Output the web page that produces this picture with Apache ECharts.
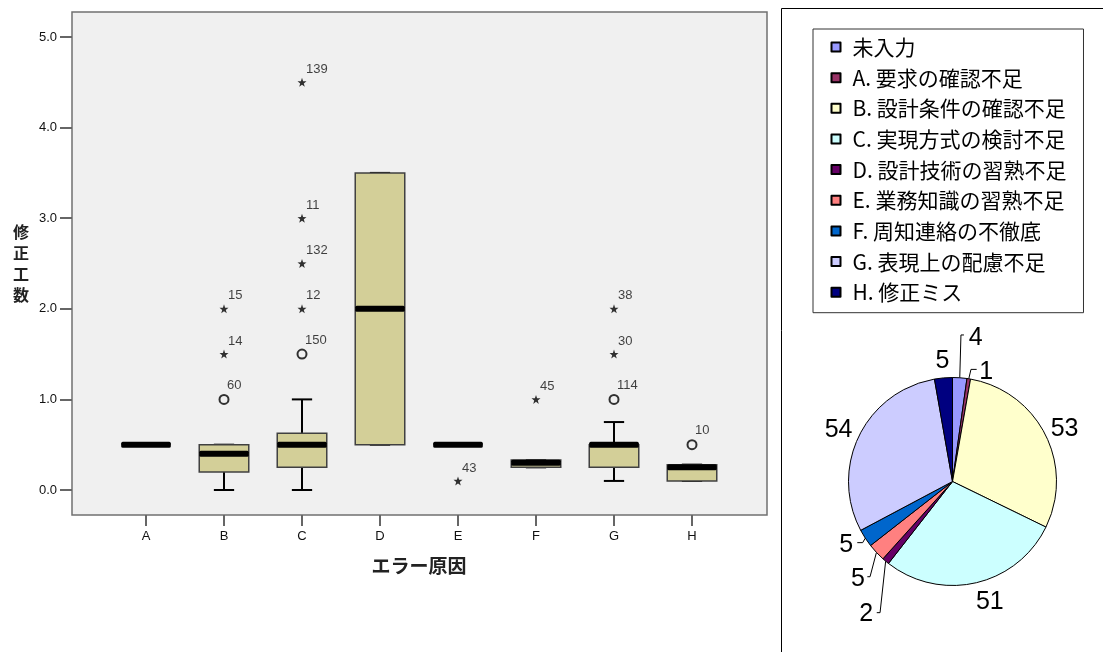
<!DOCTYPE html>
<html>
<head>
<meta charset="utf-8">
<script src="https://cdn.jsdelivr.net/npm/echarts@6.0.0/dist/echarts.min.js"></script>
<style>
html,body{margin:0;padding:0;background:#fff;}
#chart{width:1103px;height:652px;}
</style>
</head>
<body>
<div id="chart"></div>
<script>
// ---------- Box plot data ----------
const categories = ['A', 'B', 'C', 'D', 'E', 'F', 'G', 'H'];
const boxLow    = [0.5, 0.0, 0.0,   0.5, 0.5, 0.25, 0.1, 0.1];
const boxQ1     = [0.5, 0.2, 0.25,  0.5, 0.5, 0.25, 0.25, 0.1];
const boxMedian = [0.5, 0.4, 0.5,   2.0, 0.5, 0.3,  0.5, 0.25];
const boxQ3     = [0.5, 0.5, 0.625, 3.5, 0.5, 0.33, 0.5, 0.28];
const boxHigh   = [0.5, 0.5, 1.0,   3.5, 0.5, 0.33, 0.75, 0.28];

// outliers (circles)
const mildCat = ['B', 'C', 'G', 'H'];
const mildVal = [1.0, 1.5, 1.0, 0.5];
const mildId  = ['60', '150', '114', '10'];
// extremes (stars)
const extCat = ['B', 'B', 'C', 'C', 'C', 'C', 'E', 'F', 'G', 'G'];
const extVal = [1.5, 2.0, 2.0, 2.5, 3.0, 4.5, 0.1, 1.0, 1.5, 2.0];
const extId  = ['14', '15', '12', '132', '11', '139', '43', '45', '30', '38'];

const yTicks = [0, 1, 2, 3, 4, 5];

// ---------- Pie data ----------
const pieNames = ['未入力', 'A. 要求の確認不足', 'B. 設計条件の確認不足', 'C. 実現方式の検討不足',
  'D. 設計技術の習熟不足', 'E. 業務知識の習熟不足', 'F. 周知連絡の不徹底', 'G. 表現上の配慮不足', 'H. 修正ミス'];
const pieValues = [4, 1, 53, 51, 2, 5, 5, 54, 5];
const pieColors = ['#9999FF', '#993366', '#FFFFCC', '#CCFFFF', '#660066', '#FF8080', '#0066CC', '#CCCCFF', '#000080'];

// label placement style (offsets relative to the slice edge point computed by ECharts)
const pieLabelPlace = [
  { line: [[1.2, -42.8], [4.2, -42.8]], text: [9, -40], align: 'left' },
  { line: [[2.2, -9.4], [7.9, -9.4]], text: [10.5, -6.7], align: 'left' },
  { line: null, text: [5.5, -5.3], align: 'left' },
  { line: null, text: [0, 19.7], align: 'left' },
  { line: [[-5.6, 51.5], [-8.9, 51.5]], text: [-12.5, 52.8], align: 'right' },
  { line: [[-6.4, 24.3], [-9.1, 24.3]], text: [-11.5, 26.6], align: 'right' },
  { line: [[-2.6, 4.5], [-8, 4.5]], text: [-12, 6.8], align: 'right' },
  { line: null, text: [-6.5, -6], align: 'right' },
  { line: null, text: [-0.9, -17.1], align: 'center' }
];

const boxData = categories.map((c, i) => [i, boxLow[i], boxQ1[i], boxMedian[i], boxQ3[i], boxHigh[i]]);
const mildData = mildCat.map((c, i) => [categories.indexOf(c), mildVal[i], mildId[i]]);
const extData = extCat.map((c, i) => [categories.indexOf(c), extVal[i], extId[i]]);
const pieData = pieNames.map((n, i) => ({
  name: n, value: pieValues[i],
  itemStyle: { color: pieColors[i] },
  labelLine: { lineStyle: { opacity: pieLabelPlace[i].line ? 1 : 0 } }
}));

const starPath = 'path://M0,-10 L2.35,-3.24 L9.51,-3.09 L3.8,1.24 L5.88,8.09 L0,4 L-5.88,8.09 L-3.8,1.24 L-9.51,-3.09 L-2.35,-3.24 Z';
const numFont = 'Liberation Sans, Arial, sans-serif';
const jpFont = 'Noto Sans CJK JP, sans-serif';

const outlierLabel = {
  show: true,
  position: [8.5, -8.5],
  align: 'left',
  verticalAlign: 'middle',
  formatter: p => p.value[2],
  fontFamily: numFont,
  fontSize: 13,
  color: '#111'
};

const chart = echarts.init(document.getElementById('chart'), null, { renderer: 'canvas' });
chart.setOption({
  animation: false,
  backgroundColor: '#fff',
  graphic: [{
    type: 'rect', silent: true,
    shape: { x: 781.5, y: 8.5, width: 400, height: 700 },
    style: { fill: 'none', stroke: '#000', lineWidth: 1 }
  }],
  grid: [
    { left: 72, top: 12, width: 695, height: 503, show: true, backgroundColor: '#F0F0F0', borderColor: '#707070', borderWidth: 1.5 },
    { left: 107, top: 12, width: 624, height: 503 }
  ],
  xAxis: [
    { gridIndex: 0, type: 'value', show: false },
    {
      gridIndex: 1, type: 'category', data: categories, boundaryGap: true, position: 'bottom',
      axisLine: { show: false, onZero: false },
      axisTick: { show: true, alignWithLabel: true, length: 11, inside: false, lineStyle: { color: '#666', width: 2 } },
      axisLabel: { margin: 15, fontFamily: numFont, fontSize: 13, color: '#111' },
      splitLine: { show: false },
      name: 'エラー原因', nameLocation: 'middle', nameGap: 41,
      nameTextStyle: { fontFamily: jpFont, fontSize: 19, fontWeight: 'bold', color: '#222' }
    }
  ],
  yAxis: [
    { gridIndex: 0, type: 'value', show: false },
    {
      gridIndex: 1, type: 'value', min: -0.276, max: 5.276, offset: 35,
      axisLine: { show: false, onZero: false },
      axisTick: { show: true, length: 12, inside: false, customValues: yTicks, lineStyle: { color: '#666', width: 2 } },
      axisLabel: { margin: 15, customValues: yTicks, formatter: v => Number(v).toFixed(1), fontFamily: numFont, fontSize: 13, color: '#111' },
      splitLine: { show: false },
      name: '修\n正\n工\n数', nameLocation: 'middle', nameGap: 43, nameRotate: 0,
      nameTextStyle: { fontFamily: jpFont, fontSize: 16, fontWeight: 'bold', lineHeight: 21, color: '#222' }
    }
  ],
  legend: {
    orient: 'vertical', left: 813, top: 29,
    padding: [7.5, 17, 10, 17.5],
    backgroundColor: '#fff', borderColor: '#333', borderWidth: 1, borderRadius: 0,
    itemWidth: 9, itemHeight: 9, itemGap: 9.65,
    icon: 'rect', selectedMode: false,
    data: pieNames,
    formatter: name => '{t|' + name + '}',
    textStyle: {
      fontFamily: jpFont, fontSize: 21, color: '#000',
      rich: { t: { padding: [0, 0, 0, 7], fontFamily: jpFont, fontSize: 21, lineHeight: 20, color: '#000' } }
    }
  },
  series: [
    {
      type: 'custom', xAxisIndex: 1, yAxisIndex: 1,
      data: boxData,
      encode: { x: 0, y: [1, 2, 3, 4, 5] },
      renderItem: function (params, api) {
        const x = api.value(0);
        const pLow = api.coord([x, api.value(1)]);
        const pQ1 = api.coord([x, api.value(2)]);
        const pMed = api.coord([x, api.value(3)]);
        const pQ3 = api.coord([x, api.value(4)]);
        const pHigh = api.coord([x, api.value(5)]);
        const band = api.size([1, 0])[0];
        const bw = band * 0.635, cw = band * 0.26;
        const cx = pMed[0];
        const wStyle = { stroke: '#000', lineWidth: 2 };
        return {
          type: 'group',
          children: [
            { type: 'line', shape: { x1: cx, y1: pQ3[1], x2: cx, y2: pHigh[1] }, style: wStyle },
            { type: 'line', shape: { x1: cx, y1: pQ1[1], x2: cx, y2: pLow[1] }, style: wStyle },
            { type: 'line', shape: { x1: cx - cw / 2, y1: pHigh[1], x2: cx + cw / 2, y2: pHigh[1] }, style: wStyle },
            { type: 'line', shape: { x1: cx - cw / 2, y1: pLow[1], x2: cx + cw / 2, y2: pLow[1] }, style: wStyle },
            { type: 'rect', shape: { x: cx - bw / 2, y: pQ3[1], width: bw, height: pQ1[1] - pQ3[1] },
              style: { fill: '#D3CF98', stroke: '#404040', lineWidth: 1.5 } },
            { type: 'rect', shape: { x: cx - bw / 2, y: pMed[1] - 3, width: bw, height: 6, r: 1.5 },
              style: { fill: '#000' } }
          ]
        };
      },
      z: 2
    },
    {
      type: 'scatter', xAxisIndex: 1, yAxisIndex: 1,
      data: mildData, symbol: 'circle', symbolSize: 9,
      itemStyle: { color: 'rgba(0,0,0,0)', borderColor: '#000', borderWidth: 2 },
      label: outlierLabel, z: 3
    },
    {
      type: 'scatter', xAxisIndex: 1, yAxisIndex: 1,
      data: extData, symbol: starPath, symbolSize: 9,
      itemStyle: { color: '#000' },
      label: outlierLabel, z: 3
    },
    {
      type: 'pie',
      center: [952.5, 481.5], radius: 104,
      startAngle: 90, clockwise: true,
      avoidLabelOverlap: false,
      data: pieData,
      itemStyle: { borderColor: '#000', borderWidth: 1 },
      label: {
        show: true, position: 'outside', formatter: '{c}',
        fontFamily: 'Liberation Sans Narrow, Arial Narrow, Liberation Sans, sans-serif',
        fontSize: 25, color: '#000'
      },
      labelLine: { show: true, length: 5, length2: 5, lineStyle: { color: '#000', width: 1 } },
      labelLayout: function (params) {
        const pts = params.labelLinePoints;
        const c = pieLabelPlace[params.dataIndex];
        if (!pts || !c) return {};
        const a = pts[0];
        const res = { x: a[0] + c.text[0], y: a[1] + c.text[1], align: c.align, verticalAlign: 'middle' };
        res.labelLinePoints = c.line
          ? [[a[0], a[1]], [a[0] + c.line[0][0], a[1] + c.line[0][1]], [a[0] + c.line[1][0], a[1] + c.line[1][1]]]
          : [[a[0], a[1]], [a[0], a[1]], [a[0], a[1]]];
        return res;
      }
    }
  ]
});
</script>
</body>
</html>
